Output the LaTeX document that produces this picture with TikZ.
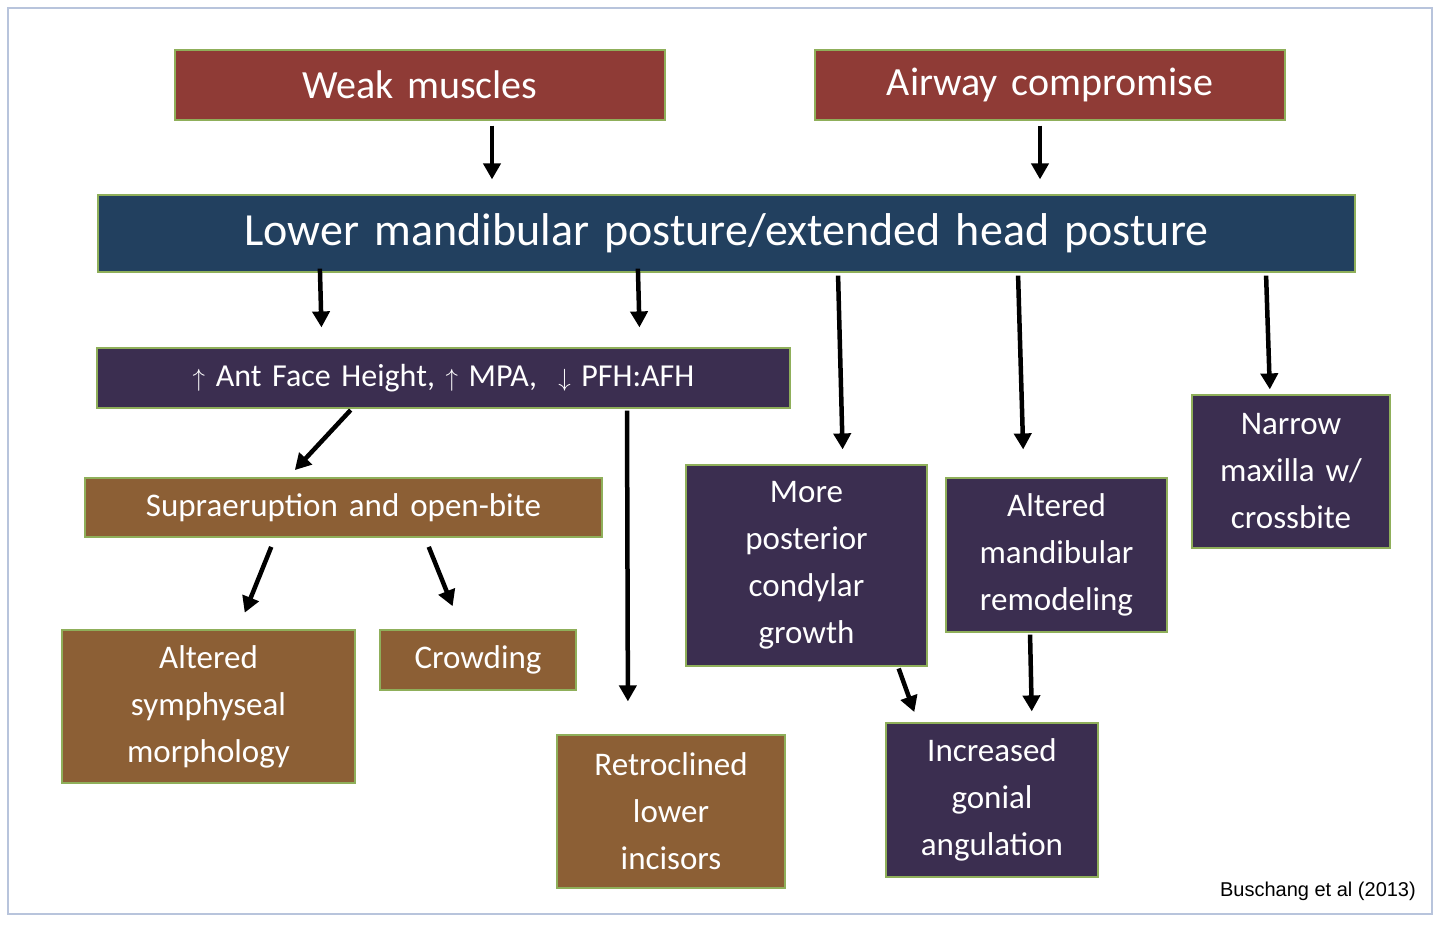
\documentclass[tikz,border=0pt]{standalone}
\usepackage{fontspec}
\setmainfont{Carlito}
\newfontfamily\arialf{Liberation Sans}
\usetikzlibrary{arrows.meta}
\definecolor{cred}{HTML}{8F3B36}
\definecolor{cblue}{HTML}{22405F}
\definecolor{cpur}{HTML}{3B2E50}
\definecolor{cbrn}{HTML}{8C5F35}
\definecolor{cedge}{HTML}{8FAF5A}
\definecolor{cframe}{HTML}{B8C4DC}
\begin{document}
\begin{tikzpicture}[x=1pt,y=-1pt,
  box/.style={draw=cedge,line width=1.2pt,text=white,align=center,inner sep=0pt,font=\fontsize{33}{47}\selectfont},
  arr/.style={line width=4.5pt,-{Triangle[length=16pt,width=17pt]}}]
\useasboundingbox (0,0) rectangle (1440,924);
\fill[white] (0,0) rectangle (1440,924);
\draw[cframe,line width=2pt] (8,8) rectangle (1432,914);
\newcommand\bx[7]{\node[box,fill=#6,minimum width=#3-#1,minimum height=#4-#2,text width=#3-#1-10,#7] (#5) at ({(#1+#3)/2},{(#2+#4)/2})}
\bx{175}{50}{665}{120}{weak}{cred}{font=\fontsize{40}{48}\selectfont}{Weak muscles};
\bx{815}{50}{1285}{120}{air}{cred}{font=\fontsize{40}{48}\selectfont}{Airway compromise};
\bx{98}{195}{1355}{272}{low}{cblue}{font=\fontsize{46}{54}\selectfont}{Lower mandibular posture/extended head posture};
\bx{97}{348}{790}{408}{afh}{cpur}{font=\fontsize{32}{40}\selectfont}{$\uparrow$ Ant Face Height, $\uparrow$ MPA,\ \ $\downarrow$ PFH:AFH};
\bx{85}{478}{602}{537}{sup}{cbrn}{}{Supraeruption and open-bite};
\bx{62}{630}{355}{783}{sym}{cbrn}{}{Altered\\symphyseal\\morphology};
\bx{380}{630}{576}{690}{crow}{cbrn}{}{Crowding};
\bx{557}{735}{785}{888}{retro}{cbrn}{}{Retroclined\\lower\\incisors};
\bx{686}{465}{927}{666}{cond}{cpur}{}{More\\posterior\\condylar\\growth};
\bx{946}{478}{1167}{632}{remod}{cpur}{}{Altered\\mandibular\\remodeling};
\bx{1192}{395}{1390}{548}{narrow}{cpur}{}{Narrow\\maxilla w/\\crossbite};
\bx{886}{723}{1098}{877}{gon}{cpur}{}{Increased\\gonial\\angulation};
\node[font=\arialf\fontsize{20}{24}\selectfont,anchor=east,inner sep=0pt] (cite) at (1416,891) {Buschang et al (2013)};
% arrows
\draw[arr,shorten <=5pt,shorten >=15pt] (492,0 |- weak.south) -- (492,0 |- low.north);
\draw[arr,shorten <=5pt,shorten >=15pt] (1040,0 |- air.south) -- (1040,0 |- low.north);
\draw[arr,shorten <=-4pt,shorten >=20pt] (320,0 |- low.south) -- (322,0 |- afh.north);
\draw[arr,shorten <=-4pt,shorten >=20pt] (638,0 |- low.south) -- (640,0 |- afh.north);
\draw[arr,shorten <=3pt,shorten >=15pt] (838,0 |- low.south) -- (843,0 |- cond.north);
\draw[arr,shorten <=3pt,shorten >=28pt] (1018,0 |- low.south) -- (1024,0 |- remod.north);
\draw[arr,shorten <=3pt,shorten >=5pt] (1266,0 |- low.south) -- (1270,0 |- narrow.north);
\draw[arr,shorten <=2pt,shorten >=10pt] (352,0 |- afh.south) -- (288,0 |- sup.north);
\draw[arr,shorten <=10pt,shorten >=18pt] (275,0 |- sup.south) -- (238,0 |- sym.north);
\draw[arr,shorten <=10pt,shorten >=25pt] (425,0 |- sup.south) -- (462,0 |- crow.north);
\draw[arr,shorten <=2pt,shorten >=33pt] (627,0 |- afh.south) -- (628,0 |- retro.north);
\draw[arr,shorten <=2pt,shorten >=11pt] (898,0 |- cond.south) -- (918,0 |- gon.north);
\draw[arr,shorten <=2pt,shorten >=11pt] (1030,0 |- remod.south) -- (1032,0 |- gon.north);
\end{tikzpicture}
\end{document}
